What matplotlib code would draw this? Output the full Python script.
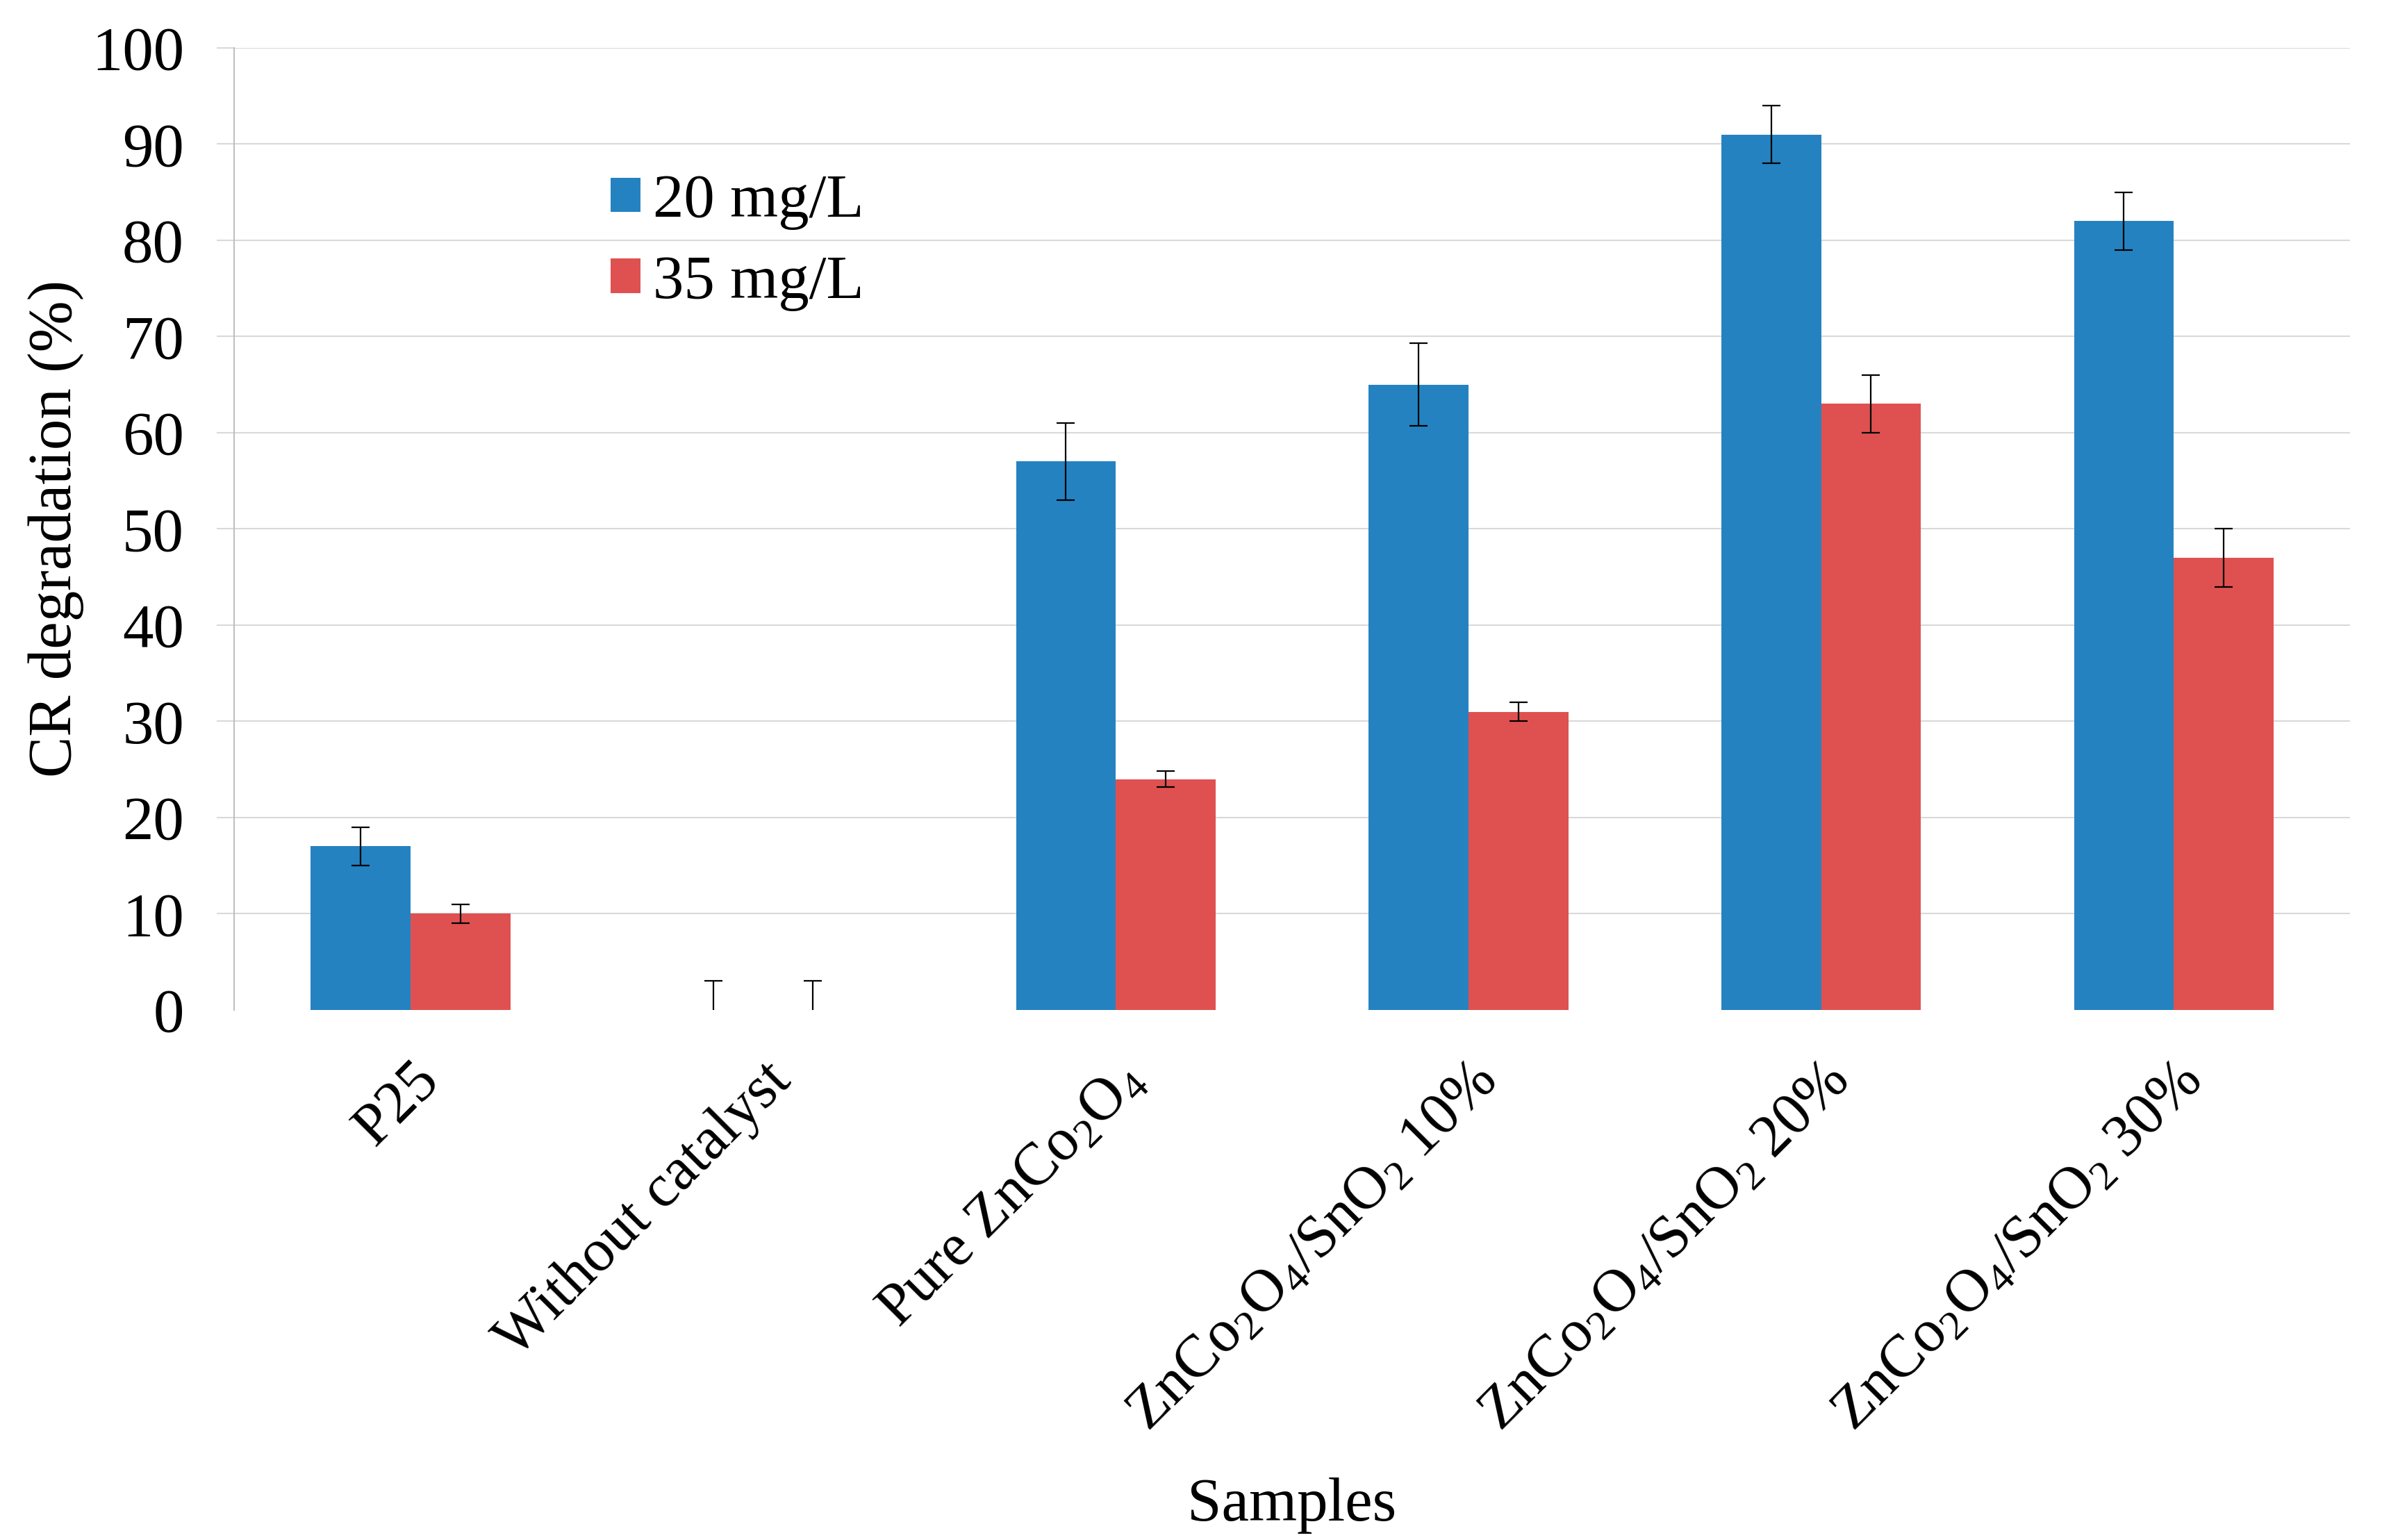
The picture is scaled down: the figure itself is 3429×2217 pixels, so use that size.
import matplotlib
matplotlib.use('Agg')
import matplotlib.pyplot as plt
import numpy as np

plt.rcParams['font.family'] = ['Liberation Serif', 'DejaVu Serif']
plt.rcParams['mathtext.fontset'] = 'custom'
plt.rcParams['mathtext.rm'] = 'Liberation Serif'
plt.rcParams['mathtext.it'] = 'Liberation Serif:italic'

samples = ['P25', 'Without catalyst', r'Pure ZnCo$_\mathregular{2}$O$_\mathregular{4}$',
           r'ZnCo$_\mathregular{2}$O$_\mathregular{4}$/SnO$_\mathregular{2}$ 10%',
           r'ZnCo$_\mathregular{2}$O$_\mathregular{4}$/SnO$_\mathregular{2}$ 20%',
           r'ZnCo$_\mathregular{2}$O$_\mathregular{4}$/SnO$_\mathregular{2}$ 30%']
deg_20 = [17, 0, 57, 65, 91, 82]
err_20 = [2, 3, 4, 4.3, 3, 3]
deg_35 = [10, 0, 24, 31, 63, 47]
err_35 = [1, 3, 0.8, 1, 3, 3]
yticks = [0, 10, 20, 30, 40, 50, 60, 70, 80, 90, 100]

blue = '#2582C1'
red = '#DF5150'
grid_c = '#d9d9d9'

fig = plt.figure(figsize=(17.15, 11.085), dpi=200)
ax = fig.add_axes([0.0983, 0.3442, 0.888, 0.6247])

x = np.arange(len(samples))
w = 0.283
ax.bar(x - w/2, deg_20, w, color=blue, label='20 mg/L', zorder=2)
ax.bar(x + w/2, deg_35, w, color=red, label='35 mg/L', zorder=2)
ax.errorbar(x - w/2, deg_20, yerr=err_20, fmt='none', ecolor='black',
            elinewidth=0.8, capsize=4.7, capthick=0.8, zorder=3)
ax.errorbar(x + w/2, deg_35, yerr=err_35, fmt='none', ecolor='black',
            elinewidth=0.8, capsize=4.7, capthick=0.8, zorder=3)

ax.set_xlim(-0.5, len(samples) - 0.5)
ax.set_ylim(0, 100)
ax.set_yticks(yticks)
ax.set_xticks(x)
ax.set_xticklabels(samples, rotation=45, ha='right', rotation_mode='anchor')

ax.tick_params(axis='x', length=0, pad=22, labelsize=31)
ax.tick_params(axis='y', length=9, width=0.75, color=grid_c, pad=17, labelsize=32)
ax.yaxis.grid(True, color=grid_c, linewidth=0.75)
ax.set_axisbelow(True)
ax.yaxis.get_gridlines()[0].set_visible(False)
ax.yaxis.get_major_ticks()[0].tick1line.set_visible(False)

for s in ['top', 'right', 'bottom']:
    ax.spines[s].set_visible(False)
ax.spines['left'].set_color('#bfbfbf')
ax.spines['left'].set_linewidth(0.75)

ax.set_ylabel('CR degradation (%)', fontsize=32, labelpad=4)
ax.set_xlabel('Samples', fontsize=32)
ax.xaxis.set_label_coords(0.5, -0.486)

fig.legend(loc='center left', bbox_to_anchor=(879/3430, 1 - 349/2217),
           frameon=False, fontsize=32, handlelength=0.48, handleheight=0.48,
           handletextpad=0.21, labelspacing=0.4, borderpad=0, borderaxespad=0)

fig.savefig('out.png', dpi=200)
